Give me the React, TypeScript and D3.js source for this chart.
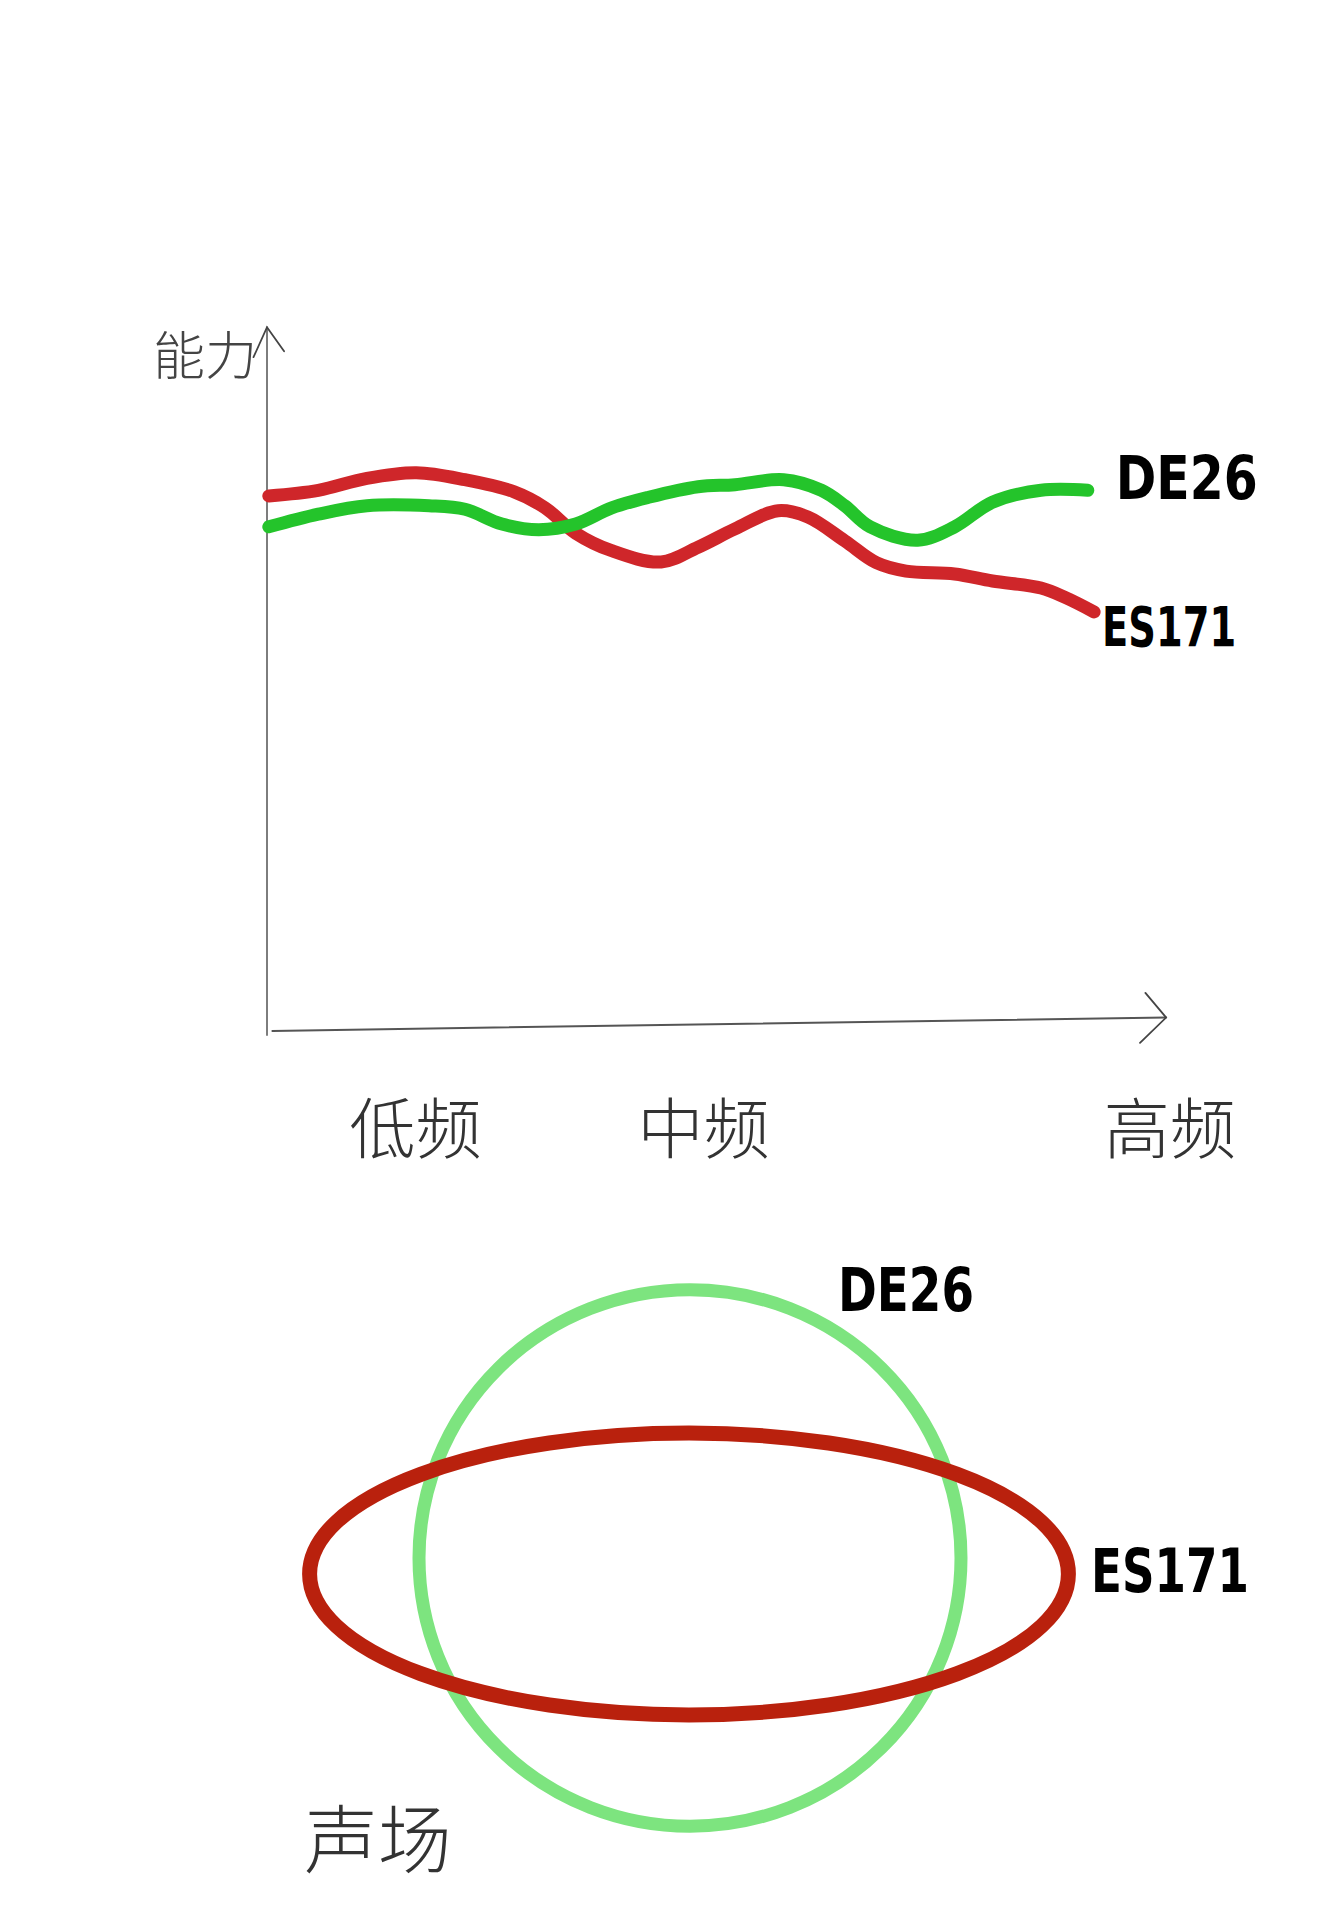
import React from "react";
import * as d3 from "d3";

// ---- Data ----
const seriesNames = ["DE26", "ES171"];
const seriesColors = ["#24c42b", "#cf262a"];

// x: relative frequency position (0 = origin, 100 = end of axis); y: "能力" (0..100)
const es171X = [0.2, 5.7, 11.1, 16.6, 22, 27.4, 30.9, 34.3, 38.3, 43.8, 47.9, 52, 56.8, 60.1, 64.2, 67.7, 71, 76.4, 80.6, 86, 88.8, 91.9];
const es171Y = [76.4, 77.2, 78.9, 79.7, 78.7, 77.0, 74.7, 71.1, 68.6, 67.0, 69.1, 71.7, 74.3, 73.4, 70.0, 66.9, 65.7, 65.3, 64.3, 63.3, 61.9, 59.9];
const de26X = [0.2, 5.7, 11.1, 18, 22, 26.1, 30.2, 34.3, 38.3, 42.4, 47.9, 52, 57.4, 61.6, 64.2, 67, 72.3, 76.4, 80.6, 86, 91.2];
const de26Y = [72.0, 73.8, 75.0, 75.0, 74.5, 72.4, 71.6, 72.4, 74.7, 76.2, 77.7, 78.0, 78.7, 77.2, 75.0, 72.0, 70.1, 72.0, 75.5, 77.2, 77.2];

const xTickLabels = ["低频", "中频", "高频"];
const xTickValues = [16.5, 48.5, 100.3];
const yAxisLabel = "能力";

// Sound field (声场): relative width / depth
const fieldNames = ["DE26", "ES171"];
const fieldWidth = [100, 140];
const fieldDepth = [99, 52];
const fieldColors = ["#7de47f", "#b9210d"];
const fieldLabel = "声场";

export default function App() {
  const W = 1341, H = 1920;
  const x = d3.scaleLinear().domain([0, 100]).range([267, 1167]);
  const y = d3.scaleLinear().domain([0, 100]).range([1033, 330]);
  const line = d3
    .line<[number, number]>()
    .x((d) => x(d[0]))
    .y((d) => y(d[1]))
    .curve(d3.curveCatmullRom.alpha(0.5));

  const de26 = de26X.map((v, i) => [v, de26Y[i]] as [number, number]);
  const es171 = es171X.map((v, i) => [v, es171Y[i]] as [number, number]);

  const r = d3.scaleLinear().domain([0, 100]).range([0, 271]);
  const fieldCx = [690, 689];
  const fieldCy = [1558, 1574];

  const pencil = "#6f6f6f";
  const hand = "'Noto Sans CJK SC', sans-serif";
  const latin = "'DejaVu Sans', 'Liberation Sans', sans-serif";

  const lastDe = de26[de26.length - 1];
  const lastEs = es171[es171.length - 1];

  return (
    <svg width={W} height={H} viewBox={`0 0 ${W} ${H}`} style={{ position: "absolute", left: 0, top: 0, background: "#fff" }}>
      <rect x={0} y={0} width={W} height={H} fill="#ffffff" />
      {/* Axes (pencil-like) */}
      <g stroke={pencil} fill="none" strokeLinecap="round">
        <path d={`M${x(0)},${y(-0.3)} L${x(0)},${y(100.4)}`} strokeWidth={1.8} />
        <path d={`M${x(-1.5)},${y(100.4) + 30} L${x(0)},${y(100.4)} L${x(1.9)},${y(100.4) + 24}`} strokeWidth={1.8} stroke="#444" />
        <path d={`M${x(0.6)},${y(0.3)} L${x(99.9)},${y(2.2)}`} strokeWidth={2} stroke="#555" />
        <path d={`M${x(97.6)},${y(5.7)} L${x(99.9)},${y(2.2)} L${x(97)},${y(-1.4)}`} strokeWidth={1.8} stroke="#444" />
      </g>
      <text x={205} y={352} fontFamily={hand} fontWeight={300} fontSize={52} fill="#444" textAnchor="middle" dominantBaseline="central">
        {yAxisLabel}
      </text>
      {xTickLabels.map((t, i) => (
        <text key={t} x={x(xTickValues[i])} y={1124} fontFamily={hand} fontWeight={300} fontSize={66} fill="#333" textAnchor="middle" dominantBaseline="central">
          {t}
        </text>
      ))}
      {/* Lines */}
      <path d={line(es171) || ""} fill="none" stroke={seriesColors[1]} strokeWidth={13} strokeLinecap="round" strokeLinejoin="round" />
      <path d={line(de26) || ""} fill="none" stroke={seriesColors[0]} strokeWidth={13} strokeLinecap="round" strokeLinejoin="round" />
      <text x={x(lastDe[0]) + 28} y={y(lastDe[1]) - 12} fontFamily={latin} fontWeight={700} fontSize={60} textLength={142} lengthAdjust="spacingAndGlyphs" fill="#000" dominantBaseline="central">
        {seriesNames[0]}
      </text>
      <text x={x(lastEs[0]) + 8} y={y(lastEs[1]) + 15} fontFamily={latin} fontWeight={700} fontSize={56} textLength={134} lengthAdjust="spacingAndGlyphs" fill="#000" dominantBaseline="central">
        {seriesNames[1]}
      </text>

      {/* Sound field ellipses */}
      {fieldNames.map((n, i) => (
        <ellipse key={n} cx={fieldCx[i]} cy={fieldCy[i]} rx={r(fieldWidth[i])} ry={r(fieldDepth[i])} fill="none" stroke={fieldColors[i]} strokeWidth={i === 0 ? 13 : 15} />
      ))}
      <text x={906} y={1290} fontFamily={latin} fontWeight={700} fontSize={60} textLength={136} lengthAdjust="spacingAndGlyphs" fill="#000" textAnchor="middle" dominantBaseline="central">
        {fieldNames[0]}
      </text>
      <text x={1170} y={1571} fontFamily={latin} fontWeight={700} fontSize={60} textLength={158} lengthAdjust="spacingAndGlyphs" fill="#000" textAnchor="middle" dominantBaseline="central">
        {fieldNames[1]}
      </text>
      <text x={378} y={1834} fontFamily={hand} fontWeight={300} fontSize={74} fill="#333" textAnchor="middle" dominantBaseline="central">
        {fieldLabel}
      </text>
    </svg>
  );
}
